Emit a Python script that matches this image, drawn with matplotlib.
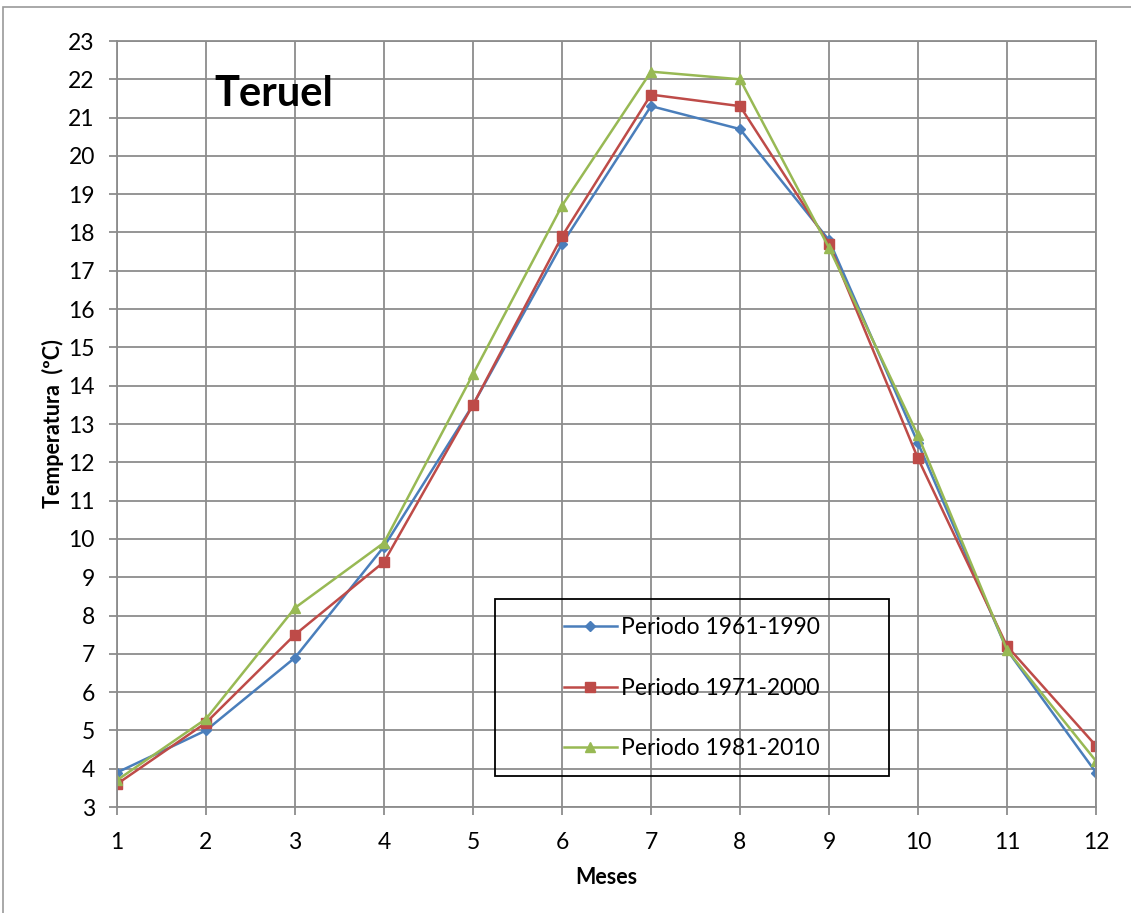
import numpy as np
import matplotlib.pyplot as plt
from matplotlib.patches import Rectangle

plt.rcParams['font.family'] = ['Lato', 'DejaVu Sans']

meses = [1, 2, 3, 4, 5, 6, 7, 8, 9, 10, 11, 12]
p1961 = [3.9, 5.0, 6.9, 9.8, 13.5, 17.7, 21.3, 20.7, 17.8, 12.5, 7.1, 3.9]
p1971 = [3.6, 5.2, 7.5, 9.4, 13.5, 17.9, 21.6, 21.3, 17.7, 12.1, 7.2, 4.6]
p1981 = [3.7, 5.3, 8.2, 9.9, 14.3, 18.7, 22.2, 22.0, 17.6, 12.7, 7.1, 4.2]

fig = plt.figure(figsize=(11.31, 9.13), dpi=100)
ax = fig.add_axes([117/1131, 1-807/913, (1096-117)/1131, (807-41)/913])

# outer chart border
fig.patches.append(Rectangle((3/1131, -0.01), 1.0, 1-7/913+0.01, transform=fig.transFigure,
                             fill=False, edgecolor='#9a9a9a', linewidth=1.2))

ax.plot(meses, p1961, color='#4A7EBB', lw=1.8, marker='D', ms=5.5, label='Periodo 1961-1990')
ax.plot(meses, p1971, color='#BE4B48', lw=1.8, marker='s', ms=7, label='Periodo 1971-2000')
ax.plot(meses, p1981, color='#98B954', lw=1.8, marker='^', ms=7, label='Periodo 1981-2010')

ax.set_xlim(1, 12)
ax.set_ylim(3, 23)
ax.set_xticks(meses)
ax.set_yticks(range(3, 24))
ax.grid(True, color='#8c8c8c', linewidth=1.3)
ax.set_axisbelow(True)
for s in ax.spines.values():
    s.set_color('#8c8c8c')
    s.set_linewidth(1.3)
ax.tick_params(axis='both', labelsize=16.5, length=6, color='#8c8c8c', width=1.3)
ax.tick_params(axis='x', pad=12)
ax.tick_params(axis='y', pad=10)

ax.set_xlabel('Meses', fontsize=15.5, fontweight='bold', labelpad=10)
ax.set_ylabel('Temperatura  (ºC)', fontsize=15.5, fontweight='bold', labelpad=3)

ax.text(0.099, 0.931, 'Teruel', transform=ax.transAxes, fontsize=30, fontweight='bold',
        va='center', ha='left')

# legend with its own frame (grid shows through)
x0 = (495-117)/979
y0 = (807-776)/766
w = (889-495)/979
h = (776-599)/766
ax.add_patch(Rectangle((x0, y0), w, h, transform=ax.transAxes, fill=False,
                       edgecolor='black', linewidth=1.3, zorder=5))
ax.legend(loc='center', bbox_to_anchor=(x0 + w/2 + 0.0, y0 + h/2 - 0.001), frameon=False,
          fontsize=16.5, handlelength=2.3, handletextpad=0.2, labelspacing=1.72)

fig.savefig('out.png', dpi=100)
